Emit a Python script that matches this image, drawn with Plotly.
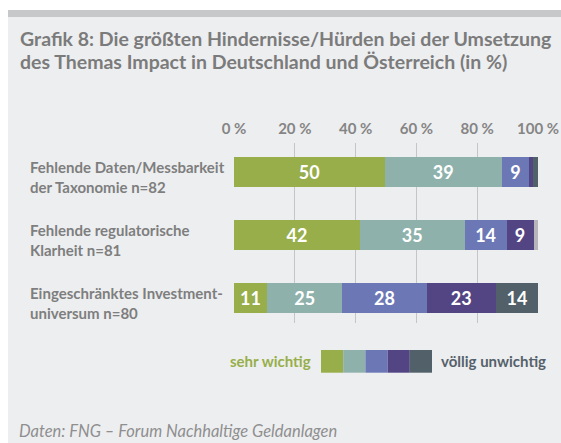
import plotly.graph_objects as go

# ---- data ----
cat_line1 = ["Fehlende Daten/Messbarkeit", "Fehlende regulatorische", "Eingeschränktes Investment-"]
cat_line2 = ["der Taxonomie n=82", "Klarheit n=81", "universum n=80"]
categories = [a + " " + b for a, b in zip(cat_line1, cat_line2)]

series_names = ["sehr wichtig", "wichtig", "eher wichtig", "eher unwichtig", "völlig unwichtig", "Rest"]
sehr_wichtig = [50, 42, 11]
wichtig = [39, 35, 25]
eher_wichtig = [9, 14, 28]
eher_unwichtig = [1.5, 9, 23]
voellig_unwichtig = [1.5, 0, 14]
rest = [0, 1.5, 0]
series_values = [sehr_wichtig, wichtig, eher_wichtig, eher_unwichtig, voellig_unwichtig, rest]
series_colors = ["#97AE4A", "#8EB1AC", "#6C78B6", "#534583", "#526069", "#B6B6BA"]

tick_vals = [0, 20, 40, 60, 80, 100]
tick_text = ["0 %", "20 %", "40 %", "60 %", "80 %", "100 %"]

title_lines = ["Grafik 8: Die größten Hindernisse/Hürden bei der Umsetzung",
               "des Themas Impact in Deutschland und Österreich (in %)"]
source_text = "Daten: FNG – Forum Nachhaltige Geldanlagen"
legend_left = "sehr wichtig"
legend_right = "völlig unwichtig"

# ---- layout geometry (pixels) ----
W, H = 561, 443
L, R, T, B = 234, 23, 143, 120
PW, PH = W - L - R, H - T - B


def px_x(x):
    return (x - L) / PW


def px_y(y):
    return (H - B - y) / PH


FONT = "Lato, 'Open Sans', sans-serif"
GRAY = "#7E7E7E"

fig = go.Figure()
for name, vals, col in zip(series_names, series_values, series_colors):
    labels = [str(int(v)) if v >= 5 else "" for v in vals]
    fig.add_trace(go.Bar(
        y=categories, x=vals, name=name, orientation="h",
        marker=dict(color=col, line=dict(width=0)),
        text=labels, texttemplate="%{text}", textposition="inside",
        insidetextanchor="middle", textangle=0, constraintext="none",
        textfont=dict(family=FONT, size=18, color="white", weight="bold"),
        width=0.476, showlegend=False, hoverinfo="skip",
    ))

shapes = [
    # panel background
    dict(type="rect", xref="paper", yref="paper", x0=px_x(8), x1=px_x(561), y0=px_y(443), y1=px_y(17),
         fillcolor="#EDEEF0", line=dict(width=0), layer="below"),
    # top bar
    dict(type="rect", xref="paper", yref="paper", x0=px_x(8), x1=px_x(561), y0=px_y(17), y1=px_y(10),
         fillcolor="#C7C8C9", line=dict(width=0), layer="below"),
]
# legend swatches (first five colours)
sw_x0, sw_w, sw_y0, sw_y1 = 321, 22.2, 350, 372.7
for i, col in enumerate(series_colors[:5]):
    shapes.append(dict(type="rect", xref="paper", yref="paper",
                       x0=px_x(sw_x0 + i * sw_w), x1=px_x(sw_x0 + (i + 1) * sw_w),
                       y0=px_y(sw_y1), y1=px_y(sw_y0),
                       fillcolor=col, line=dict(width=0)))

annotations = []
# title
for i, line in enumerate(title_lines):
    annotations.append(dict(text=line, xref="paper", yref="paper", x=px_x(18), y=px_y(38 + i * 23),
                            xanchor="left", yanchor="middle", showarrow=False,
                            font=dict(family=FONT, size=19.5, color="#7B7B7B", weight="bold")))
# category labels
for c, l1, l2 in zip(categories, cat_line1, cat_line2):
    annotations.append(dict(text=l1, xref="paper", yref="y", x=px_x(28), y=c, yshift=5,
                            xanchor="left", yanchor="middle", showarrow=False,
                            font=dict(family=FONT, size=15, color=GRAY, weight="bold")))
    annotations.append(dict(text=l2, xref="paper", yref="y", x=px_x(28), y=c, yshift=-15,
                            xanchor="left", yanchor="middle", showarrow=False,
                            font=dict(family=FONT, size=15, color=GRAY, weight="bold")))
# legend texts
annotations.append(dict(text=legend_left, xref="paper", yref="paper", x=px_x(313), y=px_y(361),
                        xanchor="right", yanchor="middle", showarrow=False,
                        font=dict(family=FONT, size=15, color="#97AE4A", weight="bold")))
annotations.append(dict(text=legend_right, xref="paper", yref="paper", x=px_x(439), y=px_y(361),
                        xanchor="left", yanchor="middle", showarrow=False,
                        font=dict(family=FONT, size=15, color="#55616A", weight="bold")))
# source
annotations.append(dict(text="<i>" + source_text + "</i>", xref="paper", yref="paper", x=px_x(17), y=px_y(431),
                        xanchor="left", yanchor="middle", showarrow=False,
                        font=dict(family=FONT, size=16.5, color="#8F8F8F")))

fig.update_layout(
    template="none",
    width=W, height=H, autosize=False,
    margin=dict(l=L, r=R, t=T, b=B, pad=0, autoexpand=False),
    paper_bgcolor="white", plot_bgcolor="rgba(0,0,0,0)",
    barmode="stack", barnorm="percent",
    shapes=shapes, annotations=annotations,
    xaxis=dict(side="top", range=[0, 100], tickvals=tick_vals, ticktext=tick_text,
               showgrid=True, gridcolor="#C4C5C7", gridwidth=1, zeroline=False,
               showline=False, ticks="", ticklabelstandoff=5, automargin=False,
               tickfont=dict(family=FONT, size=15, color="#858585", weight="bold"), fixedrange=True),
    yaxis=dict(categoryorder="array", categoryarray=categories,
               range=[2.40, -0.456], showticklabels=False, showgrid=False, automargin=False,
               zeroline=False, showline=False, ticks="", fixedrange=True),
    font=dict(family=FONT),
)

fig.write_html("out.html", config={"responsive": False, "displayModeBar": False},
               post_script="document.body.style.margin='0';document.body.style.overflow='hidden';")
